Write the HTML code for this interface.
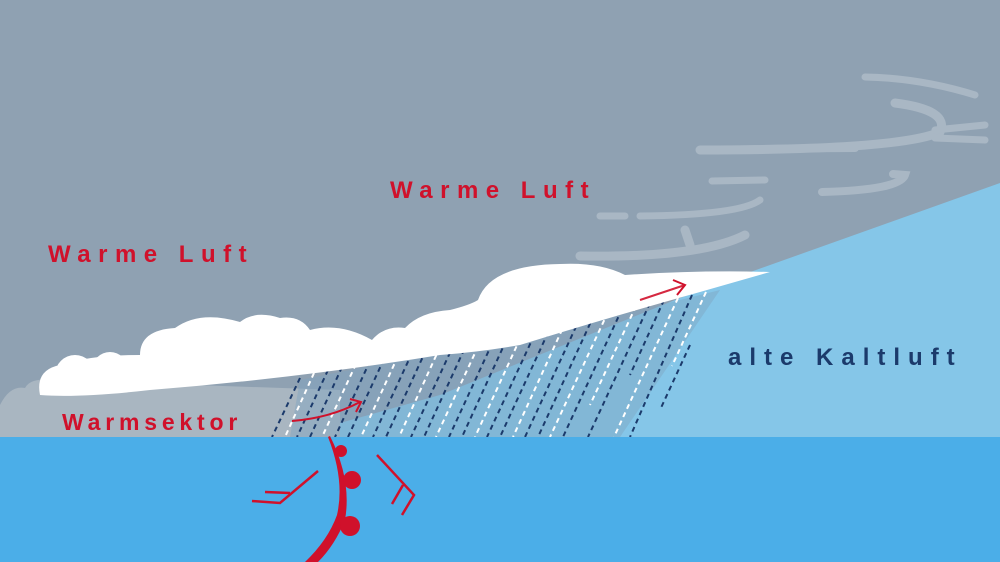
<!DOCTYPE html>
<html><head><meta charset="utf-8"><style>
html,body{margin:0;padding:0;width:1000px;height:562px;overflow:hidden;background:#8fa1b2}
svg{display:block}
text{font-family:"Liberation Sans",sans-serif;font-weight:bold}
</style></head><body>
<svg width="1000" height="562" viewBox="0 0 1000 562" xmlns="http://www.w3.org/2000/svg">
<rect width="1000" height="562" fill="#8fa1b2"/>
<g fill="none" stroke="#a9b7c4" stroke-linecap="round">
<path d="M865 77 Q920 78 975 95" stroke-width="7"/>
<path d="M895 103 Q950 110 940 132 Q900 150 700 150" stroke-width="9"/>
<path d="M715 150 Q800 148 855 148" stroke-width="8"/>
<path d="M935 130 L985 125 M935 138 L985 140" stroke-width="7"/>
<path d="M712 181 L765 180" stroke-width="7"/>
<path d="M822 192 Q900 190 905 175 L893 174" stroke-width="8"/>
<path d="M600 216 L625 216 M640 216 Q740 215 760 200" stroke-width="7"/>
<path d="M580 256 Q700 258 745 235 M685 230 L690 245" stroke-width="9"/>
</g>
<polygon points="1000,183 1000,437 290,437 440,395 700,290" fill="#85c6e8"/>
<path d="M0 437 L0 405 Q10 385 25 388 Q30 378 50 380 L340 390 L340 437 Z" fill="#a9b6c1"/>
<polygon points="290,437 300,380 600,320 720,290 620,437" fill="#7fa3c0" opacity="0.45"/>
<g stroke-width="2" stroke-dasharray="5 4">
<line x1="300" y1="378" x2="272" y2="437" stroke="#1b3a6b"/>
<line x1="314" y1="373" x2="285" y2="437" stroke="#fff"/>
<line x1="328" y1="370" x2="297" y2="437" stroke="#1b3a6b"/>
<line x1="342" y1="367" x2="310" y2="437" stroke="#1b3a6b"/>
<line x1="356" y1="364" x2="322" y2="437" stroke="#fff"/>
<line x1="370" y1="361" x2="335" y2="437" stroke="#1b3a6b"/>
<line x1="384" y1="359" x2="348" y2="437" stroke="#1b3a6b"/>
<line x1="398" y1="356" x2="361" y2="437" stroke="#fff"/>
<line x1="412" y1="353" x2="373" y2="437" stroke="#1b3a6b"/>
<line x1="426" y1="350" x2="386" y2="437" stroke="#1b3a6b"/>
<line x1="440" y1="347" x2="399" y2="437" stroke="#fff"/>
<line x1="454" y1="344" x2="411" y2="437" stroke="#1b3a6b"/>
<line x1="468" y1="341" x2="424" y2="437" stroke="#1b3a6b"/>
<line x1="482" y1="338" x2="436" y2="437" stroke="#fff"/>
<line x1="496" y1="335" x2="449" y2="437" stroke="#1b3a6b"/>
<line x1="510" y1="332" x2="462" y2="437" stroke="#1b3a6b"/>
<line x1="524" y1="330" x2="475" y2="437" stroke="#fff"/>
<line x1="538" y1="327" x2="487" y2="437" stroke="#1b3a6b"/>
<line x1="552" y1="324" x2="500" y2="437" stroke="#1b3a6b"/>
<line x1="566" y1="321" x2="513" y2="437" stroke="#fff"/>
<line x1="580" y1="318" x2="525" y2="437" stroke="#1b3a6b"/>
<line x1="594" y1="315" x2="538" y2="437" stroke="#1b3a6b"/>
<line x1="608" y1="312" x2="550" y2="437" stroke="#fff"/>
<line x1="622" y1="309" x2="563" y2="437" stroke="#1b3a6b"/>
<line x1="636" y1="306" x2="590" y2="405" stroke="#fff"/>
<line x1="650" y1="303" x2="588" y2="437" stroke="#1b3a6b"/>
<line x1="664" y1="300" x2="630" y2="375" stroke="#1b3a6b"/>
<line x1="678" y1="298" x2="614" y2="437" stroke="#fff"/>
<line x1="692" y1="295" x2="630" y2="437" stroke="#1b3a6b"/>
<line x1="706" y1="292" x2="672" y2="366" stroke="#fff"/>
<line x1="690" y1="345" x2="660" y2="410" stroke="#1b3a6b"/>
</g>
<path d="M40 395 Q35 370 60 365 Q90 355 140 355 Q140 330 175 328 Q200 310 240 322 Q255 310 280 318 Q300 315 310 330 Q340 322 372 340 Q385 325 405 328 Q420 312 450 310 Q470 305 478 300 Q490 265 560 264 Q600 262 625 275 Q700 270 770 272 L700 292 Q600 320 520 345 Q480 352 440 355 Q300 378 150 390 Q80 398 40 395 Z" fill="#fff"/>
<circle cx="75" cy="375" r="20" fill="#fff"/>
<circle cx="110" cy="370" r="18" fill="#fff"/>
<path d="M292 421 Q330 418 360 402" fill="none" stroke="#d0112b" stroke-width="2"/>
<path d="M350 399 L361 402 L356 412" fill="none" stroke="#d0112b" stroke-width="2"/>
<path d="M640 300 L685 285" fill="none" stroke="#d0112b" stroke-width="2" opacity="0.9"/>
<path d="M673 280 L685 285 L677 295" fill="none" stroke="#d0112b" stroke-width="2"/>
<rect x="0" y="437" width="1000" height="125" fill="#4baee8"/>
<path d="M330 436 Q352 480 345 520 Q335 545 318 562 L305 562 Q328 540 337 515 Q345 480 328 437 Z" fill="#d0112b"/>
<circle cx="341" cy="451" r="6" fill="#d0112b"/>
<circle cx="352" cy="480" r="9" fill="#d0112b"/>
<circle cx="350" cy="526" r="10" fill="#d0112b"/>
<g fill="none" stroke="#d0112b" stroke-width="2.5">
<path d="M318 471 L280 503 L252 501 M290 493 L265 492"/>
<path d="M377 455 L414 495 L402 515 M403 485 L392 504"/>
</g>
<text x="48" y="262" font-size="24" fill="#d0112b" letter-spacing="7.5">Warme Luft</text>
<text x="390" y="198" font-size="24" fill="#d0112b" letter-spacing="7.5">Warme Luft</text>
<text x="62" y="430" font-size="23" fill="#d0112b" letter-spacing="4.8">Warmsektor</text>
<text x="728" y="365" font-size="24" fill="#1b3a6b" letter-spacing="8">alte Kaltluft</text>
</svg>
</body></html>
